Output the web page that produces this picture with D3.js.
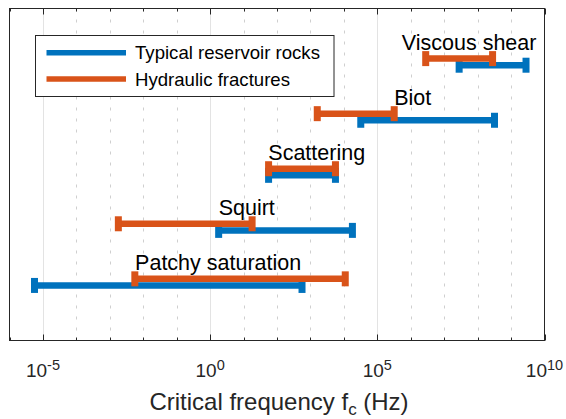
<!DOCTYPE html>
<html>
<head>
<meta charset="utf-8">
<script src="https://cdn.jsdelivr.net/npm/d3@7/dist/d3.min.js"></script>
<style>
  html, body { margin: 0; padding: 0; background: #fff; }
  svg { display: block; font-family: "Liberation Sans", Arial, Helvetica, sans-serif; }
</style>
</head>
<body>
<svg id="chart" width="566" height="419"></svg>
<script>
// ---- data ----
const categories = ["Patchy saturation", "Squirt", "Scattering", "Biot", "Viscous shear"];
const reservoirLow  = [5.6e-6, 1.8, 56, 3.2e4, 2.8e7];
const reservoirHigh = [560, 1.8e4, 5600, 3.2e8, 2.8e9];
const fractureLow   = [5.6e-3, 1.8e-3, 56, 1600, 2.8e6];
const fractureHigh  = [1.1e4, 18, 5600, 3.2e5, 2.8e8];
const labelAt       = [5.7e-3, 1.8, 55, 3.2e5, 5.4e5];
const seriesNames   = ["Typical reservoir rocks", "Hydraulic fractures"];
const tickValues    = [1e-5, 1, 1e5, 1e10];
const tickExponents = ["-5", "0", "5", "10"];
const minorValues   = [1e-6,1e-5,1e-4,1e-3,1e-2,1e-1,1,1e1,1e2,1e3,1e4,1e5,1e6,1e7,1e8,1e9,1e10];
const xLabel = "Critical frequency f";
const xLabelSub = "c";
const xLabelUnit = " (Hz)";

const colors = ["#0072BD", "#D95319"];
const axisColor = "#262626";

const svg = d3.select("#chart");
const L = 9.5, R = 544.5, T = 8.5, B = 340.5;

const x = d3.scaleLog().domain([1e-6, 1e10]).range([L, R]);
const y = d3.scaleLinear().domain([0, 6.03]).range([B, T]);

// grid
const g = svg.append("g");
g.selectAll("line.minor").data(minorValues.filter(v => !tickValues.includes(v) && v > 1e-6 && v < 1e10))
  .join("line").attr("class", "minor")
  .attr("x1", d => Math.round(x(d)) + 0.5).attr("x2", d => Math.round(x(d)) + 0.5)
  .attr("y1", T).attr("y2", B)
  .attr("stroke", "#cfcfcf").attr("stroke-width", 1).attr("stroke-dasharray", "3,8");
g.selectAll("line.major").data(tickValues.filter(v => v < 1e10))
  .join("line").attr("class", "major")
  .attr("x1", d => Math.round(x(d)) + 0.5).attr("x2", d => Math.round(x(d)) + 0.5)
  .attr("y1", T).attr("y2", B)
  .attr("stroke", "#e3e3e3").attr("stroke-width", 1);

// bars
const series = [
  { lo: reservoirLow, hi: reservoirHigh, off: 0 },
  { lo: fractureLow, hi: fractureHigh, off: 0.12 }
];
series.forEach((s, si) => {
  const grp = svg.append("g");
  categories.forEach((c, i) => {
    const yy = y(i + 1 + s.off);
    const x0 = x(s.lo[i]), x1 = x(s.hi[i]);
    grp.append("line").attr("x1", x0).attr("x2", x1).attr("y1", yy).attr("y2", yy)
      .attr("stroke", colors[si]).attr("stroke-width", 6.5);
    [x0, x1].forEach(xx => {
      grp.append("line").attr("x1", xx).attr("x2", xx).attr("y1", yy - 7.5).attr("y2", yy + 7.5)
        .attr("stroke", colors[si]).attr("stroke-width", 7);
    });
  });
});

// category labels
svg.append("g").selectAll("text").data(categories).join("text")
  .attr("x", (d, i) => x(labelAt[i]))
  .attr("y", (d, i) => y(i + 1) - 15.5)
  .attr("font-size", 21.5).attr("fill", "#000")
  .text(d => d);

// axes box + ticks
const ax = svg.append("g");
ax.append("rect").attr("x", L).attr("y", T).attr("width", R - L).attr("height", B - T)
  .attr("fill", "none").attr("stroke", axisColor).attr("stroke-width", 1);
minorValues.forEach(v => {
  const xx = Math.round(x(v)) + 0.5;
  const len = tickValues.includes(v) ? 6 : 3;
  ax.append("line").attr("x1", xx).attr("x2", xx).attr("y1", B).attr("y2", B - len).attr("stroke", axisColor);
  ax.append("line").attr("x1", xx).attr("x2", xx).attr("y1", T).attr("y2", T + len).attr("stroke", axisColor);
});

// tick labels
tickValues.forEach((v, i) => {
  const t = svg.append("text").attr("x", x(v)).attr("y", 377).attr("text-anchor", "middle")
    .attr("font-size", 19).attr("fill", axisColor);
  t.append("tspan").text("10");
  t.append("tspan").attr("dy", -7.5).attr("font-size", 14.5).text(tickExponents[i]);
});

// x label
const xl = svg.append("text").attr("x", (L + R) / 2 + 2).attr("y", 410).attr("text-anchor", "middle")
  .attr("font-size", 24).attr("fill", axisColor);
xl.append("tspan").text(xLabel);
xl.append("tspan").attr("dy", 5).attr("font-size", 17).text(xLabelSub);
xl.append("tspan").attr("dy", -5).text(xLabelUnit);

// legend
const lg = svg.append("g");
lg.append("rect").attr("x", 35.5).attr("y", 35.5).attr("width", 298.5).attr("height", 61)
  .attr("fill", "#fff").attr("stroke", axisColor).attr("stroke-width", 1);
seriesNames.forEach((n, i) => {
  const yy = 52.7 + i * 26.3;
  lg.append("line").attr("x1", 46.5).attr("x2", 126).attr("y1", yy).attr("y2", yy)
    .attr("stroke", colors[i]).attr("stroke-width", 5.5);
  lg.append("text").attr("x", 135).attr("y", yy + 6.6).attr("font-size", 18.6).attr("fill", "#000").text(n);
});
</script>
</body>
</html>
